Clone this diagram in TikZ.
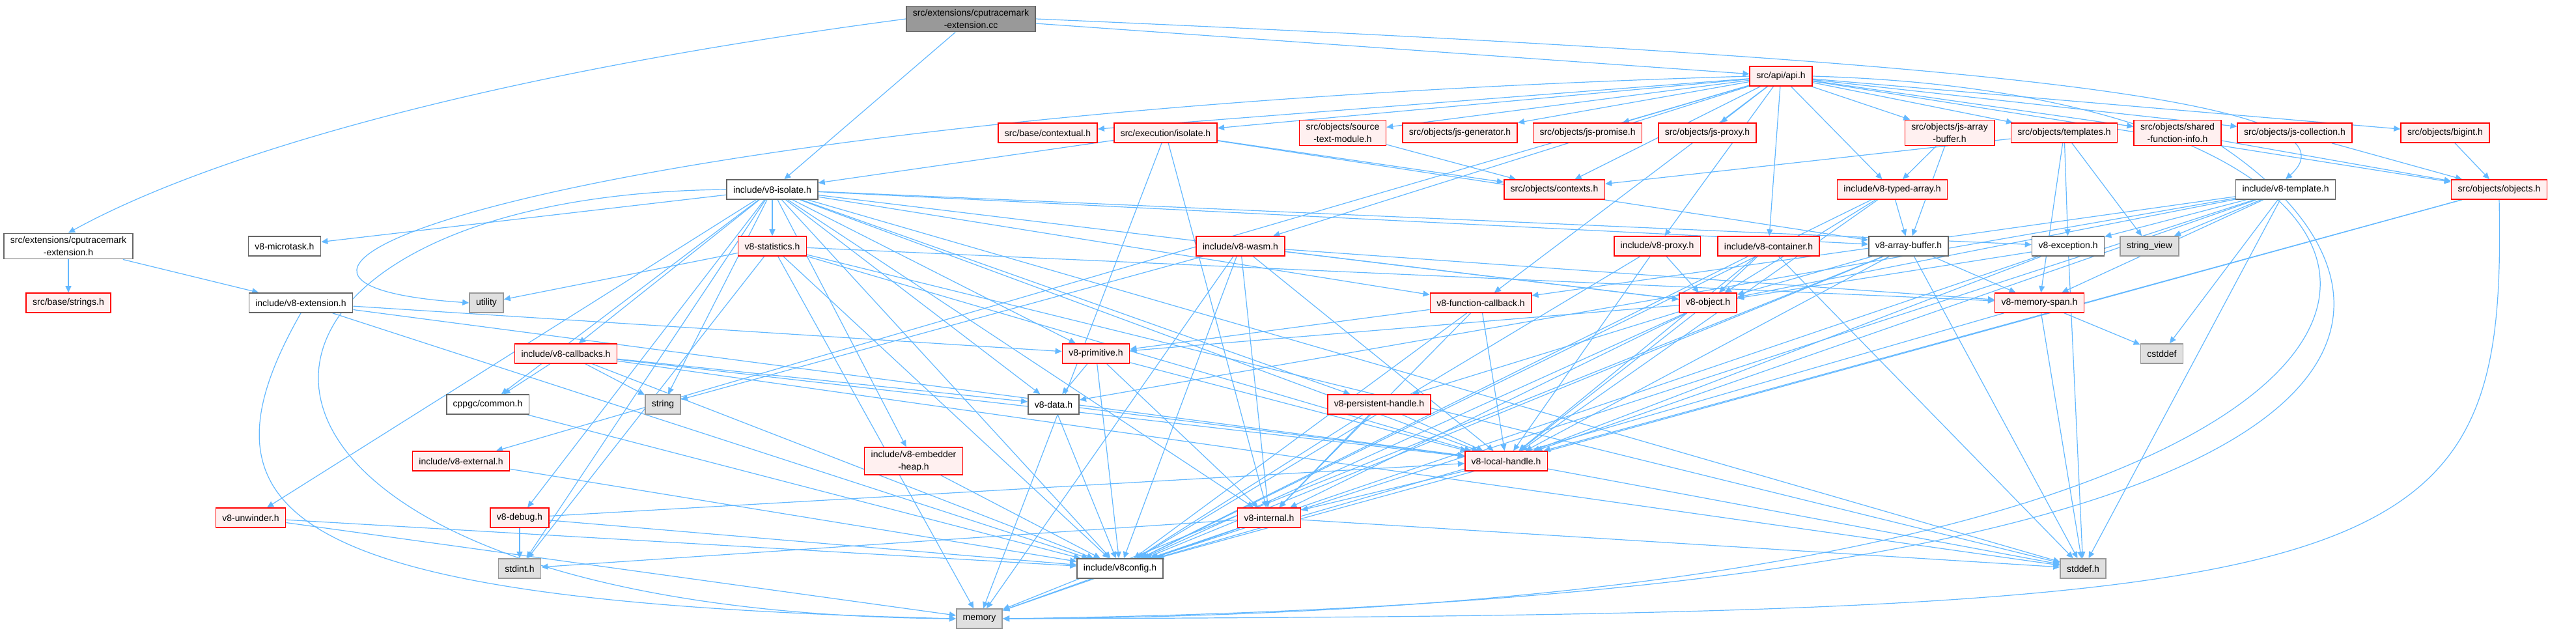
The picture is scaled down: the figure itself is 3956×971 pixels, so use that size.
\documentclass[tikz,border=0pt]{standalone}
\usepackage{fontspec}
\setmainfont{Liberation Sans}
\usetikzlibrary{arrows.meta}
\definecolor{eblue}{HTML}{63B8FF}
\definecolor{rfill}{HTML}{FFF0F0}
\definecolor{rborder}{HTML}{FF0000}
\definecolor{gfill}{HTML}{E0E0E0}
\definecolor{gborder}{HTML}{999999}
\definecolor{wborder}{HTML}{666666}
\definecolor{rootfill}{HTML}{999999}
\pgfdeclarelayer{bg}
\pgfsetlayers{bg,main}
\begin{document}
\begin{tikzpicture}[x=0.5pt,y=-0.5pt,
  box/.style={draw, line width=0.8pt, minimum height=15pt, inner xsep=5pt, inner ysep=2.5pt,
    align=center, font=\fontsize{7}{9.5}\selectfont},
  rednode/.style={box, draw=rborder, fill=rfill},
  whitenode/.style={box, draw=wborder, fill=white},
  graynode/.style={box, draw=gborder, fill=gfill},
  rootnode/.style={box, draw=wborder, fill=rootfill},
  dep/.style={draw=eblue, line width=0.6pt, -{Triangle[length=5pt,width=4.5pt]}}]
\useasboundingbox (0,0) rectangle (3956,971);
% row 0
\node[rootnode] (cc) at (1491,29) {src/extensions/cputracemark\\-extension.cc};
% row 1
\node[rednode] (api) at (2735,117) {src/api/api.h};
% row 2
\node[rednode] (contextual) at (1609,204) {src/base/contextual.h};
\node[rednode] (execiso) at (1790,204) {src/execution/isolate.h};
\node[rednode] (stm) at (2062,204) {src/objects/source\\-text-module.h};
\node[rednode] (jsgen) at (2242,204) {src/objects/js-generator.h};
\node[rednode] (jsprom) at (2438,204) {src/objects/js-promise.h};
\node[rednode] (jsproxy) at (2622,204) {src/objects/js-proxy.h};
\node[rednode] (jsab) at (2994,204) {src/objects/js-array\\-buffer.h};
\node[rednode] (templates) at (3170,204) {src/objects/templates.h};
\node[rednode] (sfi) at (3344,204) {src/objects/shared\\-function-info.h};
\node[rednode] (jscoll) at (3524,204) {src/objects/js-collection.h};
\node[rednode] (bigint) at (3755,204) {src/objects/bigint.h};
% row 3
\node[whitenode] (isolate) at (1186,291) {include/v8-isolate.h};
\node[rednode] (contexts) at (2387,291) {src/objects/contexts.h};
\node[rednode] (typed) at (2906,291) {include/v8-typed-array.h};
\node[whitenode] (v8tmpl) at (3510,291) {include/v8-template.h};
\node[rednode] (objects) at (3838,291) {src/objects/objects.h};
% row 4
\node[whitenode] (exth) at (105,378) {src/extensions/cputracemark\\-extension.h};
\node[whitenode] (microtask) at (437,378) {v8-microtask.h};
\node[rednode] (statistics) at (1186,378) {v8-statistics.h};
\node[rednode] (wasm) at (1905,378) {include/v8-wasm.h};
\node[rednode] (v8proxy) at (2545,378) {include/v8-proxy.h};
\node[rednode] (container) at (2716,378) {include/v8-container.h};
\node[whitenode] (arraybuf) at (2931,378) {v8-array-buffer.h};
\node[whitenode] (exception) at (3176,378) {v8-exception.h};
\node[graynode] (stringview) at (3301,378) {string\_view};
% row 5
\node[rednode] (strings) at (105,465) {src/base/strings.h};
\node[whitenode] (v8ext) at (462,465) {include/v8-extension.h};
\node[graynode] (utility) at (747,465) {utility};
\node[rednode] (fcb) at (2274,465) {v8-function-callback.h};
\node[rednode] (object) at (2623,465) {v8-object.h};
\node[rednode] (memspan) at (3132,465) {v8-memory-span.h};
% row 6
\node[rednode] (callbacks) at (869,543) {include/v8-callbacks.h};
\node[rednode] (primitive) at (1683,543) {v8-primitive.h};
\node[graynode] (cstddef) at (3320,543) {cstddef};
% row 7
\node[whitenode] (cppgc) at (749,621) {cppgc/common.h};
\node[graynode] (string) at (1018,621) {string};
\node[whitenode] (data) at (1618,621) {v8-data.h};
\node[rednode] (persistent) at (2118,621) {v8-persistent-handle.h};
% row 8
\node[rednode] (external) at (708,708) {include/v8-external.h};
\node[rednode] (embedder) at (1403,708) {include/v8-embedder\\-heap.h};
\node[rednode] (local) at (2313,708) {v8-local-handle.h};
% row 9
\node[rednode] (unwinder) at (385,795) {v8-unwinder.h};
\node[rednode] (debug) at (798,795) {v8-debug.h};
\node[rednode] (internal) at (1949,795) {v8-internal.h};
% row 10
\node[graynode] (stdint) at (798,873) {stdint.h};
\node[whitenode] (v8config) at (1720,873) {include/v8config.h};
\node[graynode] (stddef) at (3199,873) {stddef.h};
% row 11
\node[graynode] (memory) at (1504,950) {memory};

\begin{pgfonlayer}{bg}
\foreach \a/\b in {cc/isolate, cc/api, exth/strings, exth/v8ext,
  v8ext/local, v8ext/primitive, v8ext/v8config,
  api/contextual, api/execiso, api/stm, api/jsgen, api/jsprom, api/jsproxy, api/jsab,
  api/templates, api/sfi, api/jscoll, api/bigint, api/objects, api/contexts, api/typed,
  api/v8proxy, api/container, api/wasm, api/fcb, api/external,
  execiso/isolate, execiso/contexts, execiso/internal, execiso/memory, execiso/arraybuf,
  isolate/microtask, isolate/statistics, isolate/callbacks, isolate/cppgc, isolate/string,
  isolate/data, isolate/debug, isolate/embedder, isolate/unwinder, isolate/fcb,
  isolate/internal, isolate/local, isolate/persistent, isolate/primitive, isolate/v8config,
  isolate/stddef, isolate/stdint, isolate/arraybuf, isolate/exception, isolate/object,
  statistics/utility, statistics/memspan, statistics/local, statistics/stddef,
  statistics/stdint, statistics/memory, statistics/v8config,
  wasm/string, wasm/memory, wasm/internal, wasm/local, wasm/memspan, wasm/object, wasm/v8config,
  callbacks/cppgc, callbacks/string, callbacks/data, callbacks/local, callbacks/v8config, callbacks/stddef,
  cppgc/v8config, debug/stdint, debug/local, debug/v8config,
  unwinder/memory, unwinder/v8config, external/v8config, embedder/v8config,
  primitive/data, primitive/internal, primitive/local, primitive/v8config,
  data/local, data/v8config, persistent/internal, persistent/local, persistent/v8config,
  object/persistent, object/primitive, object/local, object/internal, object/v8config,
  fcb/primitive, fcb/local, fcb/internal, fcb/v8config,
  local/internal, local/stddef,
  internal/stdint, internal/stddef, internal/memory, internal/v8config,
  v8config/memory,
  memspan/cstddef, memspan/stddef, memspan/v8config,
  exception/object, exception/local, exception/stddef, exception/v8config,
  arraybuf/object, arraybuf/local, arraybuf/memspan, arraybuf/stddef, arraybuf/memory, arraybuf/v8config,
  typed/arraybuf, typed/object, typed/local, typed/v8config,
  v8proxy/object, v8proxy/local, v8proxy/v8config,
  container/object, container/local, container/stddef, container/v8config,
  v8tmpl/exception, v8tmpl/stringview, v8tmpl/cstddef, v8tmpl/data, v8tmpl/fcb, v8tmpl/local,
  v8tmpl/memspan, v8tmpl/object, v8tmpl/v8config, v8tmpl/stddef,
  templates/contexts, templates/exception, templates/stringview, templates/memspan,
  objects/local, objects/v8config,
  sfi/objects, jscoll/objects, bigint/objects,
  jsab/typed, jsab/arraybuf, stm/contexts}
  {\draw[dep] (\a) -- (\b);}
% curved long connectors
\draw[dep] (cc.west) .. controls (700,120) and (300,250) .. (exth.north);
\draw[dep] (cc.east) .. controls (3000,90) and (3650,150) .. (v8tmpl.north);
\draw[dep] (api.west) .. controls (900,170) and (200,430) .. (utility.west);
\draw[dep] (api.east) .. controls (3975,150) and (3975,940) .. (memory.east);
\draw[dep] (objects.south) .. controls (3850,900) and (3700,945) .. (memory.east);
\draw[dep] (sfi.south east) .. controls (3750,450) and (3800,920) .. (memory.east);
\draw[dep] (isolate.west) .. controls (230,300) and (230,940) .. (memory.west);
\draw[dep] (v8ext.south) .. controls (280,800) and (450,925) .. (memory.west);
\end{pgfonlayer}
\end{tikzpicture}
\end{document}
